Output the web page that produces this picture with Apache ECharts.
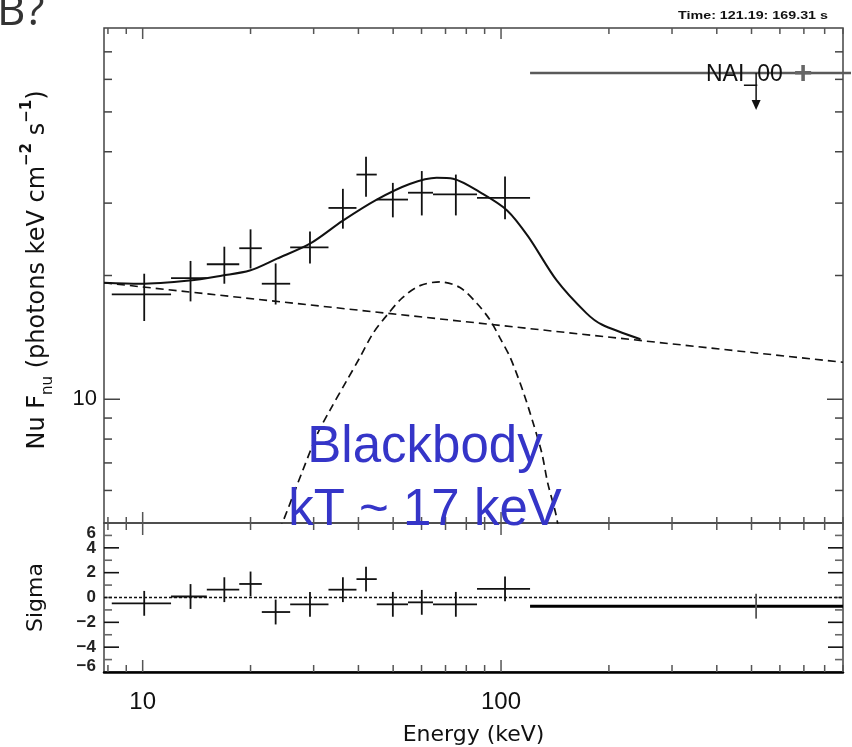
<!DOCTYPE html>
<html>
<head>
<meta charset="utf-8">
<script src="https://cdn.jsdelivr.net/npm/echarts@6/dist/echarts.min.js"></script>
<style>
html,body{margin:0;padding:0;background:#fff;}
#chart{width:852px;height:747px;}
</style>
</head>
<body>
<div id="chart"></div>
<script>
// ---------------- data ----------------
const energyLo  = [8.2, 12.0, 15.1, 18.6, 21.5, 25.8, 33.0, 39.5, 45.0, 55.0, 64.6, 85.7];
const energyHi  = [12.0, 15.1, 18.6, 21.5, 25.8, 33.0, 39.5, 45.0, 55.0, 64.6, 85.7, 120.5];
const energyMid = [10.1, 13.6, 16.9, 20.0, 23.5, 29.3, 36.2, 42.0, 49.9, 60.1, 74.8, 102.6];
const flux      = [18.0, 19.7, 21.3, 23.3, 19.1, 23.4, 29.2, 35.2, 30.6, 31.8, 31.5, 30.9];
const fluxLo    = [15.5, 17.3, 19.1, 20.8, 17.0, 21.4, 26.0, 31.1, 27.7, 28.0, 28.0, 27.4];
const fluxHi    = [20.2, 21.7, 23.5, 25.9, 21.4, 25.6, 32.5, 38.9, 33.6, 35.9, 35.2, 34.8];
const residual  = [-0.47, 0.08, 0.63, 1.09, -1.17, -0.55, 0.63, 1.48, -0.55, -0.39, -0.55, 0.70];

// upper-limit bin
const ulBin      = [120.5, 900, 515];   // lo, hi, mid energy (keV)
const ulFlux     = 62.2;
const ulResidual = -0.70;

// model curves [energy keV, nuFnu]
const modelTotal = [[7.8,19.2],[9.81,19.1],[13.5,19.45],[16.7,20.0],[19.9,20.56],[23.7,21.98],[29.3,23.9],
  [36.2,27.2],[45.0,30.6],[55.6,33.4],[66.1,34.6],[73.5,34.4],[88.9,31.6],[104,28.8],[119,24.9],
  [143,19.45],[173,16.2],[191,15.2],[245,14.0]];
const powerLaw = [[7.8,19.2],[900,12.3]];
const blackbody = [[23.9,4.8],[24.4,4.94],[28.0,6.73],[30.8,8.27],[33.3,9.40],[37.1,11.1],[40.4,12.65],
  [43.9,14.45],[48.0,16.0],[53.2,17.7],[59.4,18.9],[67.5,19.3],[76.8,18.7],[85.7,17.1],[93.1,15.6],
  [99.3,14.1],[106,12.65],[115,10.5],[123,8.74],[130,7.39],[135,6.25],[142,5.29],[145,4.8]];

// axes
const xRange = [7.8, 900];
const yRange = [5, 80];
const sigmaRange = [-6, 6];
const xMajorTicks = [10, 100];
const xMinorTicks = [8, 9, 20, 30, 40, 50, 60, 70, 80, 90, 200, 300, 400, 500, 600, 700, 800, 900];
const yMajorTicks = [10];
const yMinorTicks = [6, 7, 8, 9, 20, 30, 40, 50, 60, 70];
const sigmaTicks = [-5, -4, -3, -2, -1, 0, 1, 2, 3, 4, 5];

// ---------------- chart ----------------
const chart = echarts.init(document.getElementById('chart'), null, {renderer: 'canvas'});
const INK = '#111';
const FONT = 'Liberation Sans, Arial, sans-serif';
const TFONT = 'DejaVu Sans, sans-serif';

function seg(x1, y1, x2, y2, stroke, w) {
  return {type: 'line', shape: {x1, y1, x2, y2}, style: {stroke, lineWidth: w}};
}

const crossRows = energyLo.map((lo, i) => [lo, energyHi[i], energyMid[i], flux[i], fluxLo[i], fluxHi[i]]);
const residRows = energyLo.map((lo, i) => [lo, energyHi[i], energyMid[i], residual[i], residual[i] - 1, residual[i] + 1]);

function crossRender(params, api) {
  const lo = api.coord([api.value(0), api.value(3)]);
  const hi = api.coord([api.value(1), api.value(3)]);
  const eLo = api.coord([api.value(2), api.value(4)]);
  const eHi = api.coord([api.value(2), api.value(5)]);
  return {type: 'group', children: [
    seg(lo[0], lo[1], hi[0], hi[1], INK, 1.8),
    seg(eLo[0], eLo[1], eHi[0], eHi[1], INK, 1.8)
  ]};
}

const xTickRows = xMajorTicks.concat(xMinorTicks).map(v => [v]);
const yTickRows = yMajorTicks.concat(yMinorTicks).map(v => [v]);
const sTickRows = sigmaTicks.map(v => [v]);

function xTickRender(yMin, yMax, majorLen, minorLen) {
  return function (params, api) {
    const v = api.value(0);
    const len = xMajorTicks.includes(v) ? majorLen : minorLen;
    const b = api.coord([v, yMin]);
    const t = api.coord([v, yMax]);
    return {type: 'group', children: [
      seg(b[0], b[1], b[0], b[1] - len, '#555', 1.5),
      seg(t[0], t[1], t[0], t[1] + len, '#555', 1.5)
    ]};
  };
}

option = {
  animation: false,
  backgroundColor: '#fff',
  grid: [
    {left: 104, right: 9, top: 28, height: 495, show: true, borderColor: '#444', borderWidth: 1.5, backgroundColor: 'transparent'},
    {left: 104, right: 9, top: 523, height: 154, show: true, borderColor: '#444', borderWidth: 1.5, backgroundColor: 'transparent'}
  ],
  xAxis: [
    {type: 'log', logBase: 10, gridIndex: 0, min: xRange[0], max: xRange[1],
     axisLine: {show: false}, axisTick: {show: false}, axisLabel: {show: false}, splitLine: {show: false}},
    {type: 'log', logBase: 10, gridIndex: 1, min: xRange[0], max: xRange[1],
     axisLine: {show: true, onZero: false, lineStyle: {color: '#000', width: 2.5}},
     axisTick: {show: false}, splitLine: {show: false},
     axisLabel: {show: true, margin: 18, fontSize: 24, color: INK, fontFamily: FONT,
       showMinLabel: true, showMaxLabel: true,
       formatter: function (v) {
         const lg = Math.log10(v);
         return Math.abs(lg - Math.round(lg)) < 1e-6 ? String(Math.round(v)) : '';
       }},
     name: 'Energy (keV)', nameLocation: 'middle', nameGap: 52,
     nameTextStyle: {fontSize: 22, color: INK, fontFamily: TFONT}}
  ],
  yAxis: [
    {type: 'log', logBase: 10, gridIndex: 0, min: yRange[0], max: yRange[1],
     axisLine: {show: false}, axisTick: {show: false}, splitLine: {show: false},
     axisLabel: {show: true, margin: 7, fontSize: 22, color: INK, fontFamily: FONT,
       formatter: function (v) {
         const lg = Math.log10(v);
         return Math.abs(lg - Math.round(lg)) < 1e-6 ? String(Math.round(v)) : '';
       }}},
    {type: 'value', gridIndex: 1, min: sigmaRange[0], max: sigmaRange[1], interval: 1,
     axisLine: {show: false}, axisTick: {show: false}, splitLine: {show: false},
     axisLabel: {show: true, margin: 8, fontSize: 17, fontWeight: 'bold', color: '#222', fontFamily: FONT,
       lineHeight: 12, padding: [4, 0, 0, 0],
       showMinLabel: true, showMaxLabel: true,
       verticalAlignMaxLabel: 'top', verticalAlignMinLabel: 'bottom',
       formatter: function (v) {
         if (v % 2 !== 0) return '';
         return v < 0 ? '\u2212' + (-v) : String(v);
       }},
     name: 'Sigma', nameLocation: 'middle', nameGap: 57, nameRotate: 90,
     nameTextStyle: {fontSize: 22, color: INK, fontFamily: TFONT}}
  ],
  series: [
    // ticks, upper panel
    {type: 'custom', xAxisIndex: 0, yAxisIndex: 0, data: xTickRows, encode: {x: 0},
     renderItem: xTickRender(yRange[0], yRange[1], 11, 6), silent: true, z: 1},
    {type: 'custom', xAxisIndex: 0, yAxisIndex: 0, data: yTickRows, encode: {y: 0},
     renderItem: function (params, api) {
       const v = api.value(0);
       const len = yMajorTicks.includes(v) ? 16 : 8;
       const l = api.coord([xRange[0], v]);
       const r = api.coord([xRange[1], v]);
       return {type: 'group', children: [
         seg(l[0], l[1], l[0] + len, l[1], '#444', 1.5),
         seg(r[0], r[1], r[0] - len, r[1], '#444', 1.5)
       ]};
     }, silent: true, z: 1},
    // ticks, lower panel
    {type: 'custom', xAxisIndex: 1, yAxisIndex: 1, data: xTickRows, encode: {x: 0},
     renderItem: xTickRender(sigmaRange[0], sigmaRange[1], 12, 7), silent: true, z: 1},
    {type: 'custom', xAxisIndex: 1, yAxisIndex: 1, data: sTickRows, encode: {y: 0},
     renderItem: function (params, api) {
       const v = api.value(0);
       const len = (v % 2 === 0 && v !== 0) ? 15 : 8;
       const l = api.coord([xRange[0], v]);
       const r = api.coord([xRange[1], v]);
       const c = (v % 2 === 0 && v !== 0) ? '#111' : '#666';
       return {type: 'group', children: [
         seg(l[0], l[1], l[0] + len, l[1], c, 1.6),
         seg(r[0], r[1], r[0] - len, r[1], c, 1.6)
       ]};
     }, silent: true, z: 1},

    // model curves
    {type: 'line', xAxisIndex: 0, yAxisIndex: 0, data: powerLaw, showSymbol: false, silent: true,
     lineStyle: {color: INK, width: 1.6, type: [8, 5]}, z: 2},
    {type: 'line', xAxisIndex: 0, yAxisIndex: 0, data: blackbody, showSymbol: false, smooth: 0.3, silent: true,
     lineStyle: {color: INK, width: 1.7, type: [8, 5]}, z: 2},
    {type: 'line', xAxisIndex: 0, yAxisIndex: 0, data: modelTotal, showSymbol: false, smooth: 0.3, silent: true,
     lineStyle: {color: INK, width: 2}, z: 3},

    // data crosses
    {type: 'custom', xAxisIndex: 0, yAxisIndex: 0, data: crossRows,
     encode: {x: [0, 1, 2], y: [3, 4, 5]}, renderItem: crossRender, z: 4},
    // upper limit
    {type: 'custom', xAxisIndex: 0, yAxisIndex: 0, data: [[ulBin[0], ulBin[1], ulBin[2], ulFlux]],
     encode: {x: [0, 1, 2], y: 3},
     renderItem: function (params, api) {
       const lo = api.coord([api.value(0), api.value(3)]);
       const hi = api.coord([api.value(1), api.value(3)]);
       const m = api.coord([api.value(2), api.value(3)]);
       return {type: 'group', children: [
         seg(lo[0], lo[1], hi[0] + 8, hi[1], '#5a5a5a', 2.6),
         seg(m[0], m[1], m[0], m[1] + 30, INK, 1.5),
         {type: 'polygon', shape: {points: [[m[0] - 4.5, m[1] + 27], [m[0] + 4.5, m[1] + 27], [m[0], m[1] + 37]]},
          style: {fill: INK}}
       ]};
     }, z: 4},

    // residuals
    {type: 'line', xAxisIndex: 1, yAxisIndex: 1, data: [[xRange[0], 0], [xRange[1], 0]], showSymbol: false, silent: true,
     lineStyle: {color: INK, width: 1.6, type: [3, 2]}, z: 2},
    {type: 'custom', xAxisIndex: 1, yAxisIndex: 1, data: residRows,
     encode: {x: [0, 1, 2], y: [3, 4, 5]}, renderItem: crossRender, z: 4},
    {type: 'custom', xAxisIndex: 1, yAxisIndex: 1,
     data: [[ulBin[0], ulBin[1], ulBin[2], ulResidual, ulResidual - 1, ulResidual + 1]],
     encode: {x: [0, 1, 2], y: [3, 4, 5]},
     renderItem: function (params, api) {
       const lo = api.coord([api.value(0), api.value(3)]);
       const hi = api.coord([api.value(1), api.value(3)]);
       const eLo = api.coord([api.value(2), api.value(4)]);
       const eHi = api.coord([api.value(2), api.value(5)]);
       return {type: 'group', children: [
         seg(lo[0], lo[1], hi[0], hi[1], '#000', 3),
         seg(eLo[0], eLo[1], eHi[0], eHi[1], '#555', 1.8)
       ]};
     }, z: 4}
  ],
  graphic: [
    {type: 'text', left: -3, top: -10, style: {text: 'B?', fontSize: 44, fill: '#333', fontFamily: 'Open Sans, sans-serif'}},
    {type: 'text', x: 828, y: 16, scaleX: 1.3, style: {text: 'Time: 121.19: 169.31 s', fontSize: 11, fontWeight: 'bold', fill: '#111',
      fontFamily: FONT, align: 'right', verticalAlign: 'middle'}},
    {type: 'text', x: 706, y: 75, z: 10, style: {text: 'NAI_00', fontSize: 23, fill: '#111', fontFamily: FONT, verticalAlign: 'middle'}},
    {type: 'text', x: 803, y: 74, z: 10, style: {text: '+', fontSize: 32, fontWeight: 'bold', fill: '#666', fontFamily: FONT, align: 'center', verticalAlign: 'middle'}},
    {type: 'text', x: 425, y: 448, z: 10, style: {text: 'Blackbody', fontSize: 51, fill: '#3535c8', fontFamily: FONT,
      align: 'center', verticalAlign: 'middle'}},
    {type: 'text', x: 425, y: 511, z: 10, style: {text: 'kT ~ 17 keV', fontSize: 51, fill: '#3535c8', fontFamily: FONT,
      align: 'center', verticalAlign: 'middle'}},
    {type: 'text', x: 38, y: 270, rotation: Math.PI / 2, z: 10,
     style: {text: 'Nu F{sub|nu} (photons keV cm{sup|\u22122} s{sup|\u22121})', fontSize: 24, fill: '#111', fontFamily: TFONT,
       align: 'center', verticalAlign: 'middle', lineHeight: 36,
       rich: {
         sub: {fontSize: 15, fontFamily: TFONT, fill: '#111', verticalAlign: 'bottom', lineHeight: 36},
         sup: {fontSize: 15, fontFamily: TFONT, fontWeight: 'bold', fill: '#111', verticalAlign: 'top', lineHeight: 36}
       }}}
  ]
};
chart.setOption(option);
</script>
</body>
</html>
